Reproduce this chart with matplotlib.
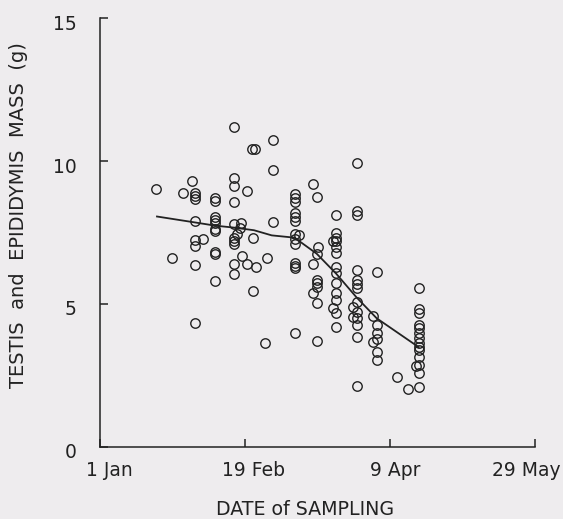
import matplotlib
matplotlib.use("Agg")
import matplotlib.pyplot as plt
import matplotlib.transforms as mtransforms

# day of year (1 Jan = 0) and testis+epididymis mass (g)
sample_day = (
    [19.0, 24.2, 27.9, 30.9]
    + [32.2] * 8
    + [34.8]
    + [38.9] * 10
    + [45.3] * 10
    + [46.3, 47.2, 47.6, 47.8, 49.6, 49.8, 51.6, 51.6, 51.4, 52.4, 52.6, 55.6, 56.3]
    + [58.3] * 3
    + [65.8] * 13
    + [67.4]
    + [71.8] * 3
    + [73.2] * 7
    + [73.8]
    + [79.8] * 13
    + [78.8, 78.8]
    + [86.7] * 13
    + [85.6, 85.6]
    + [93.5] * 6
    + [92.4, 92.2, 100.3, 104.2]
    + [107.7] * 14
    + [106.8]
)
testis_mass = (
    [9.01, 6.61, 8.88, 9.30]
    + [8.90, 8.78, 8.67, 7.91, 7.25, 7.04, 6.35, 4.32]
    + [7.28]
    + [8.72, 8.61, 8.05, 7.95, 7.85, 7.62, 7.55, 6.83, 6.74, 5.80]
    + [11.18, 9.41, 9.13, 8.57, 7.80, 7.32, 7.21, 7.11, 6.41, 6.06]
    + [7.46, 7.67, 7.84, 6.69, 8.95, 6.41, 7.32, 5.47, 10.42, 10.42, 6.31, 3.65, 6.62]
    + [10.75, 9.69, 7.88]
    + [8.85, 8.72, 8.58, 8.20, 8.03, 7.89, 7.46, 7.29, 7.11, 6.45, 6.34, 6.27, 3.97]
    + [7.43]
    + [9.20, 6.41, 5.37]
    + [8.75, 6.76, 5.83, 5.72, 5.58, 5.02, 3.71]
    + [7.00]
    + [8.12, 7.50, 7.32, 7.22, 6.98, 6.80, 6.31, 6.10, 5.72, 5.37, 5.13, 4.68, 4.20]
    + [7.20, 4.85]
    + [9.94, 8.26, 8.12, 6.20, 5.83, 5.69, 5.55, 5.06, 4.71, 4.50, 4.25, 3.84, 2.13]
    + [4.88, 4.53]
    + [6.13, 4.25, 3.97, 3.76, 3.32, 3.04]
    + [4.57, 3.66, 2.45, 2.03]
    + [5.55, 4.81, 4.67, 4.25, 4.15, 3.97, 3.80, 3.62, 3.49, 3.38, 3.15, 2.87, 2.59, 2.10]
    + [2.83]
)

trend_day = [19.2, 32.2, 38.9, 45.4, 52.0, 58.0, 65.7, 73.2, 79.8, 86.7, 93.5, 107.7]
trend_mass = [8.06, 7.85, 7.74, 7.67, 7.58, 7.40, 7.32, 6.76, 6.06, 5.23, 4.50, 3.49]

tick_days = [0, 49, 98, 147]
tick_labels = ["1 Jan", "19 Feb", "9 Apr", "29 May"]

bg = "#eeecee"
ink = "#222222"

fig = plt.figure(figsize=(5.63, 5.19), dpi=100, facecolor=bg)
ax = fig.add_axes([0.178, 0.139, 0.772, 0.826], facecolor=bg)

ax.plot(sample_day, testis_mass, linestyle="none", marker="o", markersize=6.8,
        markerfacecolor="none", markeredgecolor=ink, markeredgewidth=1.0)
ax.plot(trend_day, trend_mass, color=ink, linewidth=1.3)

ax.set_xlim(0, 147)
ax.set_ylim(0, 15)
ax.set_xticks(tick_days)
ax.set_xticklabels(tick_labels)
ax.set_yticks([0, 5, 10, 15])

for s in ["top", "right"]:
    ax.spines[s].set_visible(False)
for s in ["left", "bottom"]:
    ax.spines[s].set_linewidth(1.1)
    ax.spines[s].set_color(ink)

ax.tick_params(axis="both", direction="in", length=6, width=1.1, color=ink,
               labelcolor=ink, labelsize=13.5)
ax.tick_params(axis="y", pad=17)
ax.tick_params(axis="x", pad=10)

# labels in the original sit a little off their ticks
x_shift = [9, 8, 5, -9]
for lab, dx in zip(ax.get_xticklabels(), x_shift):
    lab.set_transform(lab.get_transform() + mtransforms.ScaledTranslation(dx / 100, 0, fig.dpi_scale_trans))
for lab in ax.get_yticklabels():
    lab.set_transform(lab.get_transform() + mtransforms.ScaledTranslation(0, -4 / 100, fig.dpi_scale_trans))

ax.set_xlabel("DATE of SAMPLING", fontsize=13.7, color=ink)
ax.set_ylabel("TESTIS  and  EPIDIDYMIS  MASS  (g)", fontsize=14, color=ink)
ax.xaxis.set_label_coords(0.472, -0.124)
ax.yaxis.set_label_coords(-0.165, 0.541)

fig.savefig("out.png", dpi=100, facecolor=bg)
